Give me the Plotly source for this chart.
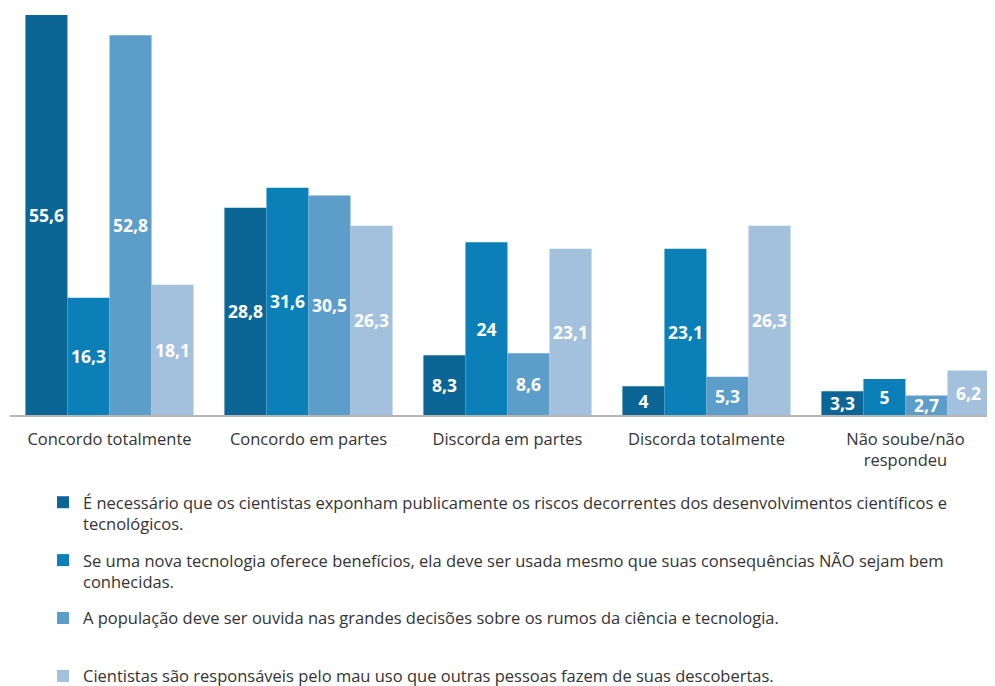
import plotly.graph_objects as go

categories = ["Concordo totalmente", "Concordo em partes", "Discorda em partes",
              "Discorda totalmente", "Não soube/não<br>respondeu"]

series_names = [
    "É necessário que os cientistas exponham publicamente os riscos decorrentes dos desenvolvimentos científicos e<br>tecnológicos.",
    "Se uma nova tecnologia oferece benefícios, ela deve ser usada mesmo que suas consequências NÃO sejam bem<br>conhecidas.",
    "A população deve ser ouvida nas grandes decisões sobre os rumos da ciência e tecnologia.<br> ",
    "Cientistas são responsáveis pelo mau uso que outras pessoas fazem de suas descobertas.",
]

s1 = [55.6, 28.8, 8.3, 4, 3.3]
s2 = [16.3, 31.6, 24, 23.1, 5]
s3 = [52.8, 30.5, 8.6, 5.3, 2.7]
s4 = [18.1, 26.3, 23.1, 26.3, 6.2]

colors = ["#0b6696", "#0a7fb8", "#5d9dca", "#a3c1dd"]

FONT = "Open Sans, Lato, sans-serif"
W, H = 987, 678

def fmt(v):
    return ("%g" % v).replace(".", ",")

fig = go.Figure()
for i, (name, vals) in enumerate(zip(series_names, [s1, s2, s3, s4])):
    fig.add_trace(go.Bar(
        x=categories, y=vals, name=name,
        marker=dict(color=colors[i], line=dict(width=0)),
        text=[fmt(v) for v in vals],
        textposition="inside", insidetextanchor="middle",
        textangle=0,
        textfont=dict(color="white", size=17.5, family=FONT, weight="bold"),
        legendgroup="g%d" % i,
    ))

fig.update_layout(
    width=W, height=H,
    barmode="group", bargap=0.155, bargroupgap=0,
    plot_bgcolor="white", paper_bgcolor="white",
    margin=dict(l=2, r=0, t=7, b=271, autoexpand=False),
    font=dict(family=FONT, size=16.5, color="#333333"),
    uniformtext=dict(minsize=17.5, mode="show"),
    xaxis=dict(range=[-0.5, 4.45], showline=True, linecolor="#b5b5b5", linewidth=2,
               ticks="", showgrid=False, automargin=False, ticklabelstandoff=8,
               tickfont=dict(size=16.5, color="#333333")),
    yaxis=dict(range=[0, 55.6], visible=False, showgrid=False, automargin=False),
    legend=dict(orientation="v", xref="container", yref="container",
                x=35 / W, xanchor="left", y=1 - 477 / H, yanchor="top",
                valign="top", traceorder="grouped", tracegroupgap=12,
                font=dict(size=16.5, color="#333333"), itemwidth=30),
    showlegend=True,
)

fig.write_html("out.html")
